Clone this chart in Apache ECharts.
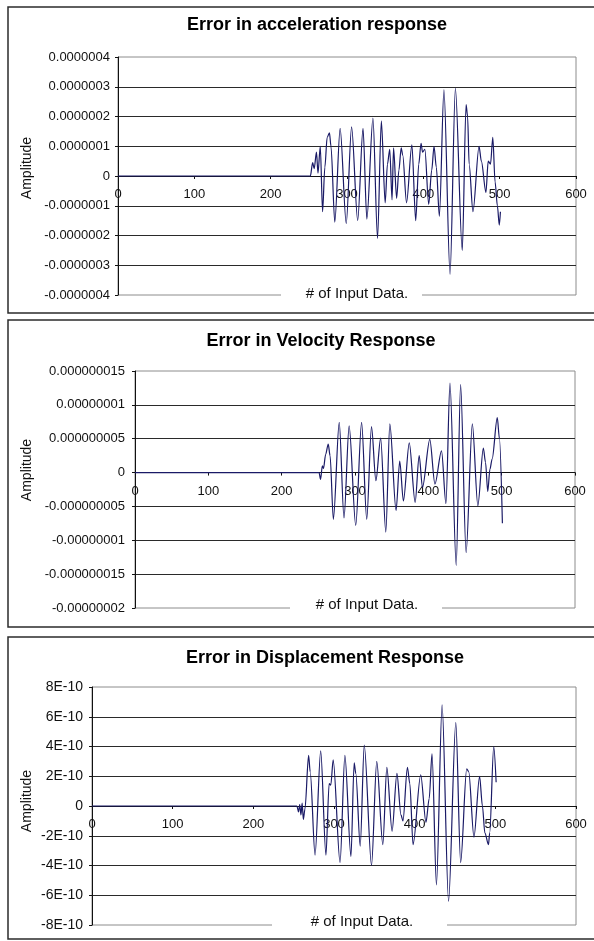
<!DOCTYPE html>
<html>
<head>
<meta charset="utf-8">
<script src="https://cdn.jsdelivr.net/npm/echarts@6/dist/echarts.min.js"></script>
<style>
  html, body { margin: 0; padding: 0; background: #fff; }
  #main { width: 594px; height: 941px; }
</style>
</head>
<body>
<div id="main"></div>
<script>
// values (turning points of each trace)
// acceleration error, units of 1e-7
var accX = [0, 252, 255, 257, 260, 262, 265, 268, 271, 274, 277, 279, 284, 291, 299, 306, 314, 321, 326, 334, 340, 345, 350, 353, 356, 359, 361, 365, 368, 371, 373, 378, 385, 390, 394, 397, 399, 402, 407, 411, 414, 417, 421, 427, 435, 442, 451, 456, 458, 460, 465, 473, 476, 482, 485, 488, 491, 494, 497, 499.5, 501];
var accY = [0, 0, 0.45, 0.25, 0.8, 0.1, 1.0, -1.2, 0.3, 1.3, 1.45, 1.0, -1.55, 1.6, -1.6, 1.65, -1.5, 1.6, -1.45, 1.95, -2.1, 1.85, -0.9, 0.4, 0.9, -0.8, 0.95, -0.75, 0.2, 0.95, 0.7, -0.9, 1.05, -1.5, 0.4, 1.1, 0.8, 0.9, -0.95, 0.2, 1.0, 0.3, -1.35, 2.9, -3.3, 2.95, -2.5, 2.4, 2.0, 0.4, -1.2, 1.0, 0.5, -0.55, 0.5, 0.4, 1.3, -0.2, -1.0, -1.65, -1.2];

// velocity error, units of 1e-9
var velX = [0, 251, 253, 255.5, 257, 260, 263.5, 266, 270.5, 278.5, 285, 292, 301, 309, 316, 322.5, 328.5, 335, 342, 347.5, 356, 361, 366, 374, 382, 387.5, 392, 402, 409, 418, 424, 429.5, 438, 444, 451.5, 460, 467.5, 475, 478, 481, 484, 487, 494, 497, 501];
var velY = [0, 0, -1.0, 1.0, 0.6, 2.7, 4.2, 2.5, -6.9, 7.4, -6.7, 6.9, -7.8, 7.4, -6.9, 6.8, -1.2, 5.1, -8.8, 7.2, -5.6, 1.7, -4.2, 4.4, -4.4, 2.5, -2.2, 4.9, -1.7, 3.2, -4.6, 13.2, -13.7, 13.0, -11.8, 7.2, -4.9, 3.6, 1.5, -2.8, 0.5, 2.0, 8.1, 5.0, -7.5];

// displacement error, units of 1e-10
var dispX = [0, 254, 256, 257.5, 259, 260.5, 262, 264, 268.5, 270.5, 276.5, 283.5, 290, 294, 296, 299, 307.5, 313.5, 321, 325, 327, 332.5, 337.5, 346.5, 353, 360.5, 365.5, 372, 378, 383, 385.5, 391, 394, 398, 407.5, 414, 418, 421.5, 427, 434, 442, 451, 457, 464.5, 467, 473.5, 480.5, 484, 487, 491.5, 493, 498, 501];
var dispY = [0, 0, -0.4, 0.1, -0.6, 0.2, -0.9, -0.2, 3.4, 2.3, -3.3, 3.7, -3.3, 1.5, 1.4, 3.1, -3.8, 3.4, -3.4, 2.9, 2.2, -2.7, 4.1, -4.0, 3.0, -2.6, 2.6, -1.7, 2.2, -0.6, -1.0, 2.6, 1.5, -2.6, 2.1, -1.1, 0.5, 3.5, -5.3, 6.8, -6.4, 5.6, -3.8, 2.5, 2.3, -2.1, 2.0, 0, -1.8, -2.6, -1.8, 4.0, 1.6];

var xTicks = ['0', '100', '200', '300', '400', '500', '600'];
var accTicks = ['-0.0000004', '-0.0000003', '-0.0000002', '-0.0000001', '0', '0.0000001', '0.0000002', '0.0000003', '0.0000004'];
var velTicks = ['-0.00000002', '-0.000000015', '-0.00000001', '-0.000000005', '0', '0.000000005', '0.00000001', '0.000000015'];
var dispTicks = ['-8E-10', '-6E-10', '-4E-10', '-2E-10', '0', '2E-10', '4E-10', '6E-10', '8E-10'];

var titles = ['Error in acceleration response', 'Error in Velocity Response', 'Error in Displacement Response'];
var xName = '# of Input Data.';
var yName = 'Amplitude';

var FONT = 'Arial, "Liberation Sans", sans-serif';
var LINE = '#1a1a66';

function pairs(xs, ys) {
    var out = [];
    for (var i = 0; i < xs.length; i++) {
        out.push([xs[i], ys[i]]);
    }
    return out;
}

// per panel layout
var panels = [
    {grid: {left: 118, top: 57, width: 458, height: 238}, min: -4, max: 4, step: 1, ticks: accTicks, data: pairs(accX, accY),
     frame: [8, 7, 700, 306], title: [317, 25], amp: [27, 168], gap: [281, 289, 141, 12], xt: [357, 294], ylm: 8, fs: 13},
    {grid: {left: 135, top: 371, width: 440, height: 237}, min: -20, max: 15, step: 5, ticks: velTicks, data: pairs(velX, velY),
     frame: [8, 320, 700, 307], title: [321, 341], amp: [27, 470], gap: [290, 600, 152, 12], xt: [367, 605], ylm: 10, fs: 13},
    {grid: {left: 92, top: 687, width: 484, height: 238}, min: -8, max: 8, step: 2, ticks: dispTicks, data: pairs(dispX, dispY),
     frame: [8, 637, 700, 302], title: [325, 658], amp: [27, 801], gap: [272, 919, 175, 12], xt: [362, 922], ylm: 9, fs: 14}
];

var grids = [], xAxes = [], yAxes = [], series = [], graphics = [];

panels.forEach(function(p, k){
    // x axis sits on the zero line: shift it up from the grid bottom
    var zeroOffset = -p.grid.height * (0 - p.min) / (p.max - p.min);
    grids.push({
        left: p.grid.left, top: p.grid.top, width: p.grid.width, height: p.grid.height,
        show: true, borderColor: '#8c8c8c', borderWidth: 1, backgroundColor: 'transparent'
    });
    xAxes.push({
        type: 'value', gridIndex: k, min: 0, max: 600, interval: 100,
        position: 'bottom', offset: zeroOffset,
        axisLine: {onZero: false, lineStyle: {color: '#111', width: 1}},
        axisTick: {show: true, length: 3, lineStyle: {color: '#111'}},
        axisLabel: {
            margin: 12, color: '#111', fontFamily: FONT, fontSize: 13,
            formatter: function(v){ return xTicks[Math.round(v / 100)]; }
        },
        splitLine: {show: false}
    });
    yAxes.push({
        type: 'value', gridIndex: k, min: p.min, max: p.max, interval: p.step,
        axisLine: {show: true, onZero: false, lineStyle: {color: '#111', width: 1}},
        axisTick: {show: true, length: 3, lineStyle: {color: '#111'}},
        axisLabel: {
            margin: p.ylm, color: '#111', fontFamily: FONT, fontSize: p.fs,
            formatter: function(v){ return p.ticks[Math.round((v - p.min) / p.step)]; }
        },
        splitLine: {show: true, showMinLine: false, showMaxLine: false, lineStyle: {color: '#2a2a2a', width: 1}}
    });
    series.push({
        type: 'line', xAxisIndex: k, yAxisIndex: k, data: p.data,
        showSymbol: false, symbol: 'none', smooth: 0.3, smoothMonotone: 'x',
        lineStyle: {color: LINE, width: 1.2}, z: 5
    });

    graphics.push({
        type: 'rect', shape: {x: p.frame[0], y: p.frame[1], width: p.frame[2], height: p.frame[3]},
        style: {fill: 'none', stroke: '#2b2b2b', lineWidth: 1.5}, z: 100
    });
    graphics.push({
        type: 'text', x: p.title[0], y: p.title[1], z: 100,
        style: {text: titles[k], font: 'bold 18px ' + FONT, fill: '#000', textAlign: 'center', textVerticalAlign: 'middle'}
    });
    graphics.push({
        type: 'text', x: p.amp[0], y: p.amp[1], rotation: Math.PI / 2, z: 100,
        style: {text: yName, font: '14px ' + FONT, fill: '#111', textAlign: 'center', textVerticalAlign: 'middle'}
    });
    graphics.push({
        type: 'rect', shape: {x: p.gap[0], y: p.gap[1], width: p.gap[2], height: p.gap[3]},
        style: {fill: '#fff', stroke: null}, z: 100
    });
    graphics.push({
        type: 'text', x: p.xt[0], y: p.xt[1], z: 101,
        style: {text: xName, font: '15px ' + FONT, fill: '#111', textAlign: 'center', textVerticalAlign: 'middle'}
    });
});

var myChart = echarts.init(document.getElementById('main'), null, {renderer: 'canvas'});
myChart.setOption({
    backgroundColor: '#fff',
    animation: false,
    grid: grids,
    xAxis: xAxes,
    yAxis: yAxes,
    series: series,
    graphic: graphics
});
</script>
</body>
</html>
